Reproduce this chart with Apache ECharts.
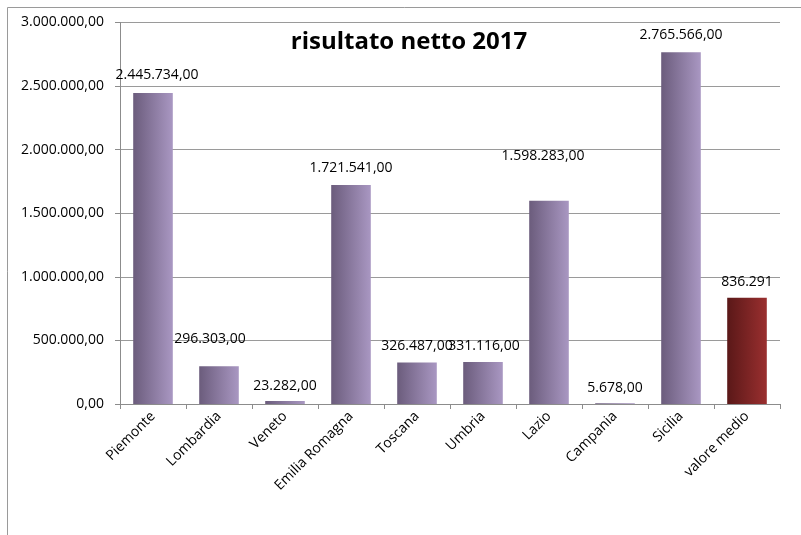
<!DOCTYPE html>
<html>
<head>
<meta charset="utf-8">
<style>
  html, body { margin: 0; padding: 0; background: #ffffff; }
  #chart { width: 801px; height: 535px; }
</style>
<script src="https://cdn.jsdelivr.net/npm/echarts@6/dist/echarts.min.js"></script>
</head>
<body>
<div id="chart"></div>
<script>
// Net result 2017 by region, plus the average bar
const regions = ['Piemonte', 'Lombardia', 'Veneto', 'Emilia Romagna', 'Toscana', 'Umbria', 'Lazio', 'Campania', 'Sicilia'];
const regionValues = [2445734, 296303, 23282, 1721541, 326487, 331116, 1598283, 5678, 2765566];
const averageLabel = 'valore medio';
const averageValue = 836291;
const yTicks = [0, 500000, 1000000, 1500000, 2000000, 2500000, 3000000];

const FONT = 'Open Sans';
const FS = 14;

// Italian number formatting: thousands '.', decimals ','
function fmtIt(v, decimals) {
  const fixed = Math.abs(v).toFixed(decimals);
  const parts = fixed.split('.');
  const intPart = parts[0].replace(/\B(?=(\d{3})+(?!\d))/g, '.');
  return (v < 0 ? '-' : '') + intPart + (decimals > 0 ? ',' + parts[1] : '');
}

// left-to-right shading on every bar
const purple = {
  type: 'linear', x: 0, y: 0, x2: 1, y2: 0,
  colorStops: [
    { offset: 0, color: '#6b5c7c' },
    { offset: 1, color: '#a997c2' }
  ]
};
const red = {
  type: 'linear', x: 0, y: 0, x2: 1, y2: 0,
  colorStops: [
    { offset: 0, color: '#5a1818' },
    { offset: 1, color: '#9a2f2f' }
  ]
};

// small label nudges where labels sit away from the default spot
const labelTweaks = {
  0: { offset: [4, -3] },
  1: { offset: [-9, -12] },
  3: { offset: [0, -2] },
  4: { offset: [0, -1] },
  5: { offset: [1, -1] },
  6: { offset: [-6, -30] },
  8: { offset: [0, -2] }
};

const categories = regions.concat([averageLabel]);
const barData = regionValues.map((v, i) => ({
  value: v,
  itemStyle: { color: purple },
  label: Object.assign({ formatter: p => fmtIt(p.value, 2) }, labelTweaks[i] || {})
}));
barData.push({
  value: averageValue,
  itemStyle: { color: red },
  label: { formatter: p => fmtIt(p.value, 0), offset: [0, -1] }
});

const chart = echarts.init(document.getElementById('chart'), null, { renderer: 'canvas' });
chart.setOption({
  animation: false,
  backgroundColor: '#ffffff',
  title: {
    text: 'risultato netto 2017',
    left: 404, top: 25, textAlign: 'center',
    textStyle: { fontFamily: FONT, fontWeight: 'bold', fontSize: 24, color: '#000' }
  },
  graphic: [{
    type: 'polyline',
    shape: { points: [[7.5, 535], [7.5, 7.5], [801, 7.5]] },
    style: { stroke: '#9a9a9a', lineWidth: 1, fill: null },
    silent: true
  }],
  grid: { left: 120, right: 21, top: 22.5, bottom: 131, containLabel: false },
  xAxis: {
    type: 'category',
    data: categories,
    axisLine: { lineStyle: { color: '#8c8c8c', width: 1 } },
    axisTick: { show: true, length: 5, lineStyle: { color: '#8c8c8c' } },
    axisLabel: {
      rotate: 45, interval: 0, margin: 10,
      fontFamily: FONT, fontSize: FS, color: '#000'
    }
  },
  yAxis: {
    type: 'value',
    min: yTicks[0], max: yTicks[yTicks.length - 1], interval: yTicks[1] - yTicks[0],
    axisLine: { show: true, lineStyle: { color: '#8c8c8c', width: 1 } },
    axisTick: { show: true, length: 5, lineStyle: { color: '#8c8c8c' } },
    splitLine: { show: true, lineStyle: { color: '#9a9a9a', width: 1 } },
    axisLabel: {
      margin: 16, fontFamily: FONT, fontSize: FS, color: '#000',
      formatter: v => fmtIt(v, 2)
    }
  },
  series: [{
    type: 'bar',
    data: barData,
    barWidth: '60%',
    label: {
      show: true, position: 'top', distance: 8,
      fontFamily: FONT, fontSize: FS, color: '#000'
    }
  }]
});
</script>
</body>
</html>
